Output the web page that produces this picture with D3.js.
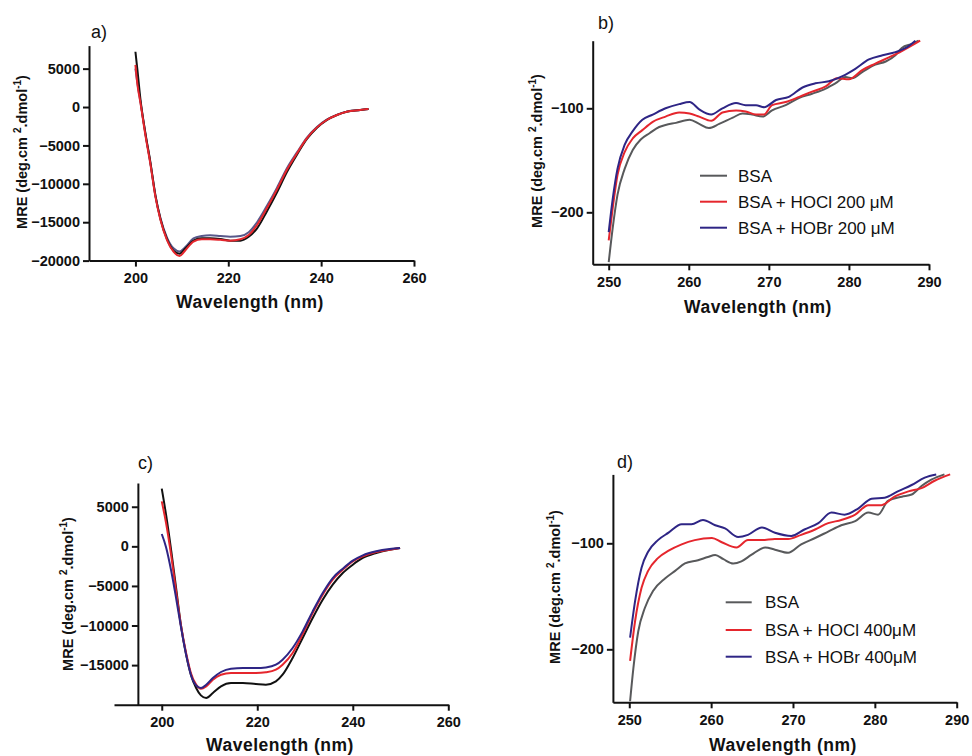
<!DOCTYPE html>
<html lang="en">
<head>
    <meta charset="utf-8">
    <script src="https://d3js.org/d3.v7.min.js"></script>
    <style type="text/css">
        body {
            margin: 0;
            background: white;
            font-family: "Liberation Sans", Arial, sans-serif;
        }
        .tick text { font-weight: bold; font-size: 14.5px; fill: #111; }
        .axis-title { font-weight: bold; }
        .legend text { font-size: 17px; fill: #111; }
    </style>
</head>
<body>
<svg id="chart" width="972" height="756"></svg>
<script type="text/javascript">
    // ---- data: far-UV panels (a, c) share a wavelength grid per panel
    var wlA   = [200, 200.4, 201.1, 202.2, 203.2, 204.3, 205.4, 206.8, 208.2, 209.5, 210.8, 212.5, 214.3, 216.1, 218.3,
                 220.4, 222.6, 224.4, 226.2, 228.3, 230.5, 232.6, 234.8, 236.9, 239.1, 241.2, 243.4, 245.5, 248.4, 250.2];
    var bsaA  = [7200, 5000, 900, -3600, -7100, -11500, -14600, -17200, -18700, -19100, -18400, -17400, -17100, -17100, -17200,
                 -17400, -17400, -16900, -15800, -13600, -11100, -8500, -6200, -4200, -2700, -1700, -1040, -610, -390, -260];
    var hoclA = [5500, 3080, 480, -3860, -7330, -11670, -14710, -17320, -18840, -19400, -18620, -17530, -17230, -17230, -17300,
                 -17400, -17230, -16670, -15360, -13190, -10720, -8200, -6030, -4080, -2650, -1690, -1040, -610, -390, -260];
    var hobrA = [5000, 3200, 600, -3700, -7200, -11500, -14500, -17000, -18400, -18800, -18200, -17100, -16800, -16700, -16800,
                 -16900, -16800, -16300, -15000, -12900, -10500, -8000, -5900, -4000, -2600, -1650, -1020, -600, -380, -260];

    var wlC   = [200, 200.9, 202.0, 203.0, 204.0, 205.1, 206.1, 207.2, 208.2, 209.3, 210.7, 212.4, 214.5, 217.0, 219.7,
                 221.8, 223.9, 225.3, 227.4, 229.5, 231.6, 233.7, 235.8, 237.9, 240.0, 242.1, 244.9, 247.7, 249.9];
    var bsaC  = [7280, 4000, -630, -5260, -9900, -13680, -16210, -17890, -18820, -19150, -18520, -17680, -17260, -17260, -17390,
                 -17470, -17050, -16210, -14100, -11580, -9050, -6740, -4840, -3370, -2320, -1470, -840, -420, -210];
    var hoclC = [5680, 2950, -1260, -5680, -9900, -13470, -16000, -17470, -17980, -17680, -16840, -16210, -16000, -16000, -16000,
                 -15910, -15580, -14950, -13470, -11070, -8420, -6100, -4210, -2950, -1890, -1260, -720, -420, -210];
    var hobrC = [1560, -100, -3160, -6530, -10100, -13680, -16210, -17560, -17900, -17470, -16630, -15870, -15450, -15370, -15370,
                 -15290, -14950, -14310, -12840, -10740, -8210, -5890, -4000, -2820, -1810, -1140, -630, -340, -210];

    // ---- data: near-UV panel b (200 uM)
    var wlBbsa  = [250, 250.5, 251.1, 252.0, 253.0, 254.0, 255.1, 256.3, 257.1, 258.4, 260.1, 261.3, 262.5, 263.8, 265.5, 266.7,
                   267.9, 269.2, 270.4, 272.1, 273.8, 275.4, 277.1, 278.3, 279.6, 280.4, 281.7, 283.3, 284.6, 285.8, 286.6, 287.9, 288.7];
    var bsaB    = [-248, -215, -183, -158, -140, -130, -124, -118, -116, -114, -111, -115, -119, -115, -109, -105,
                   -106, -108, -102, -97, -90, -86, -81, -76, -70, -71, -65, -58, -55, -49, -42, -38, -35];
    var wlBhocl = [250, 250.5, 251.1, 252.0, 253.0, 254.2, 255.5, 257.1, 258.8, 260.1, 261.3, 262.8, 264.2, 265.9, 267.1,
                   268.4, 269.4, 270.4, 272.1, 273.8, 275.4, 277.1, 278.5, 280.0, 281.7, 283.3, 285.0, 286.6, 288.9];
    var hoclB   = [-227, -196, -164, -142, -129, -121, -113, -108, -104, -105, -108, -112, -104, -102, -103,
                   -106, -106, -97, -94, -89, -84, -79, -71, -72, -63, -57, -51, -45, -35];
    var wlBhobr = [250, 250.5, 251.1, 252.0, 253.0, 254.2, 255.5, 257.1, 258.8, 260.1, 261.3, 262.8, 264.2, 265.9, 267.1,
                   268.4, 269.4, 270.9, 272.5, 274.2, 275.8, 277.5, 279.2, 280.8, 282.5, 284.2, 285.8, 287.1, 288.3];
    var hobrB   = [-219, -187, -158, -135, -122, -111, -106, -100, -96, -94, -101, -106, -100, -95, -97,
                   -97, -99, -92, -89, -80, -76, -74, -69, -62, -53, -49, -46, -42, -35];

    // ---- data: near-UV panel d (400 uM)
    var wlDbsa  = [250.1, 250.5, 251.1, 251.9, 252.9, 254.4, 255.6, 256.8, 258.4, 259.6, 260.5, 261.5, 262.7, 263.7, 264.9, 266.6,
                   267.8, 269.4, 271.0, 272.7, 274.3, 275.9, 277.6, 279.2, 280.4, 281.6, 283.3, 284.5, 285.7, 286.9, 288.5];
    var bsaD    = [-249, -218, -183, -161, -145, -133, -126, -119, -116, -113, -111, -115, -119, -117, -111, -104,
                   -106, -109, -101, -95, -89, -83, -79, -71, -73, -60, -56, -54, -46, -40, -35];
    var wlDhocl = [250.1, 250.7, 251.5, 252.3, 253.5, 254.8, 256.4, 258.0, 260.1, 261.3, 263.1, 264.5, 266.2, 267.8, 269.4,
                   271.0, 272.7, 274.3, 275.9, 277.6, 279.2, 280.8, 282.4, 284.1, 285.7, 287.3, 289.2];
    var hoclD   = [-211, -174, -142, -126, -114, -107, -101, -97, -95, -99, -104, -97, -97, -96, -96,
                   -92, -87, -81, -78, -73, -64, -64, -56, -51, -48, -41, -35];
    var wlDhobr = [250.1, 250.7, 251.5, 252.3, 253.5, 254.8, 256.4, 257.6, 259.0, 260.5, 261.7, 263.3, 264.5, 266.2, 267.8,
                   269.8, 271.4, 273.1, 274.7, 276.3, 278.0, 279.6, 281.2, 282.8, 284.5, 286.1, 287.5];
    var hobrD   = [-189, -155, -123, -108, -97, -90, -82, -82, -78, -83, -86, -94, -92, -85, -90,
                   -93, -87, -81, -71, -73, -67, -58, -57, -51, -45, -38, -35];

    // ---- ticks and labels
    var xTicksFar  = [200, 220, 240, 260];
    var yTicksFarA = [5000, 0, -5000, -10000, -15000, -20000];
    var yTicksFarC = [5000, 0, -5000, -10000, -15000];
    var xTicksNear = [250, 260, 270, 280, 290];
    var yTicksNear = [-100, -200];
    var legendB = ["BSA", "BSA + HOCl 200 \u03bcM", "BSA + HOBr 200 \u03bcM"];
    var legendD = ["BSA", "BSA + HOCl 400\u03bcM", "BSA + HOBr 400\u03bcM"];

    var svg = d3.select("#chart");

    var panels = [
        { label: "a)", lx: 91, ly: 38,
          xDom: [190, 260], xr: [89, 414], yDom: [-20000, 8000], yr: [260.6, 45.6], yAxisAt: 190,
          xTicks: xTicksFar, yTicks: yTicksFarA, xtx: 250, xty: 308, ytx: 27, yty: 152,
          series: [
              { wl: wlA, v: hobrA, color: "#58588a" },
              { wl: wlA, v: bsaA, color: "#111111" },
              { wl: wlA, v: hoclA, color: "#e5262d" }
          ] },
        { label: "b)", lx: 598, ly: 29,
          xDom: [248, 290], xr: [592.7, 929], yDom: [-250, -35], yr: [264.3, 40.7], yAxisAt: 248,
          xTicks: xTicksNear, yTicks: yTicksNear, xtx: 758, xty: 313, ytx: 542, yty: 151,
          series: [
              { wl: wlBbsa, v: bsaB, color: "#58595b" },
              { wl: wlBhocl, v: hoclB, color: "#e5262d" },
              { wl: wlBhobr, v: hobrB, color: "#2e2585" }
          ],
          legend: { names: legendB, x0: 700, x1: 727, tx: 738, ys: [175.7, 201.7, 227.7],
                    colors: ["#58595b", "#e5262d", "#2e2585"] } },
        { label: "c)", lx: 138, ly: 469,
          xDom: [190, 260], xr: [114, 448.3], yDom: [-20000, 8000], yr: [704.7, 483], yAxisAt: 195,
          xTicks: xTicksFar, yTicks: yTicksFarC, xtx: 280, xty: 751, ytx: 73, yty: 594,
          series: [
              { wl: wlC, v: bsaC, color: "#111111" },
              { wl: wlC, v: hoclC, color: "#e5262d" },
              { wl: wlC, v: hobrC, color: "#2e2585" }
          ] },
        { label: "d)", lx: 617, ly: 468,
          xDom: [248, 290], xr: [612.9, 956.7], yDom: [-250, -35], yr: [702.3, 474.4], yAxisAt: 248,
          xTicks: xTicksNear, yTicks: yTicksNear, xtx: 783, xty: 751, ytx: 560, yty: 587,
          series: [
              { wl: wlDbsa, v: bsaD, color: "#58595b" },
              { wl: wlDhocl, v: hoclD, color: "#e5262d" },
              { wl: wlDhobr, v: hobrD, color: "#2e2585" }
          ],
          legend: { names: legendD, x0: 725.7, x1: 751.7, tx: 765, ys: [602.3, 630, 656.7],
                    colors: ["#58595b", "#e5262d", "#2e2585"] } }
    ];

    panels.forEach(function (p) {
        var x = d3.scaleLinear().domain(p.xDom).range(p.xr);
        var y = d3.scaleLinear().domain(p.yDom).range(p.yr);
        var g = svg.append("g");

        // curves
        var line = d3.line()
            .x(function (d) { return x(d[0]); })
            .y(function (d) { return y(d[1]); })
            .curve(d3.curveMonotoneX);

        p.series.forEach(function (s) {
            g.append("path")
                .datum(s.wl.map(function (w, i) { return [w, s.v[i]]; }))
                .attr("d", line)
                .attr("fill", "none")
                .attr("stroke", s.color)
                .attr("stroke-width", 2)
                .attr("stroke-linejoin", "round");
        });

        // axes
        var xAxis = g.append("g")
            .attr("transform", "translate(0," + p.yr[0] + ")")
            .call(d3.axisBottom(x).tickValues(p.xTicks).tickSize(6).tickPadding(6).tickSizeOuter(0));
        var yAxis = g.append("g")
            .attr("transform", "translate(" + x(p.yAxisAt) + ",0)")
            .call(d3.axisLeft(y).tickValues(p.yTicks).tickSize(6).tickPadding(3).tickSizeOuter(0)
                .tickFormat(d3.format("d")));
        [xAxis, yAxis].forEach(function (a) {
            a.selectAll(".domain").attr("stroke", "#111").attr("stroke-width", 2);
            a.selectAll(".tick line").attr("stroke", "#111").attr("stroke-width", 2);
            a.selectAll(".tick text").attr("font-family", "Liberation Sans, Arial, sans-serif");
        });

        // axis titles
        g.append("text")
            .attr("class", "axis-title")
            .attr("x", p.xtx).attr("y", p.xty)
            .attr("text-anchor", "middle")
            .attr("font-size", 17.5)
            .attr("letter-spacing", 0.5)
            .attr("fill", "#111")
            .text("Wavelength (nm)");

        var yt = g.append("text")
            .attr("class", "axis-title")
            .attr("transform", "translate(" + p.ytx + "," + p.yty + ") rotate(-90)")
            .attr("text-anchor", "middle")
            .attr("font-size", 14.5)
            .attr("fill", "#111");
        yt.append("tspan").text("MRE (deg.cm ");
        yt.append("tspan").attr("font-size", 10).attr("dy", -6).text("2");
        yt.append("tspan").attr("dy", 6).text(".dmol");
        yt.append("tspan").attr("font-size", 10).attr("dy", -6).text("-1");
        yt.append("tspan").attr("dy", 6).text(")");

        // panel label
        g.append("text")
            .attr("x", p.lx).attr("y", p.ly)
            .attr("font-size", 18)
            .attr("fill", "#111")
            .text(p.label);

        // legend
        if (p.legend) {
            var lg = g.append("g").attr("class", "legend");
            p.legend.names.forEach(function (n, i) {
                lg.append("line")
                    .attr("x1", p.legend.x0).attr("x2", p.legend.x1)
                    .attr("y1", p.legend.ys[i]).attr("y2", p.legend.ys[i])
                    .attr("stroke", p.legend.colors[i])
                    .attr("stroke-width", 2);
                lg.append("text")
                    .attr("x", p.legend.tx).attr("y", p.legend.ys[i] + 6)
                    .text(n);
            });
        }
    });
</script>
</body>
</html>
